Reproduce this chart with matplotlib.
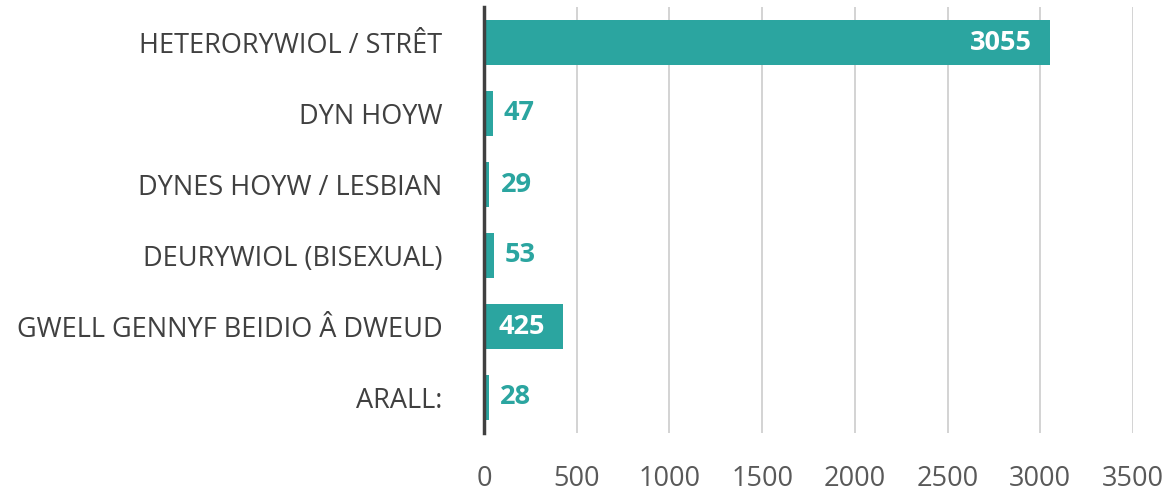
import matplotlib
matplotlib.use("Agg")
import matplotlib.pyplot as plt

categories = ["HETERORYWIOL / STRÊT", "DYN HOYW", "DYNES HOYW / LESBIAN",
              "DEURYWIOL (BISEXUAL)", "GWELL GENNYF BEIDIO Â DWEUD", "ARALL:"]
values = [3055, 47, 29, 53, 425, 28]
xticks = [0, 500, 1000, 1500, 2000, 2500, 3000, 3500]

teal = "#2BA5A0"
plt.rcParams['font.family'] = ['Open Sans', 'DejaVu Sans']
FS = 19.5

fig = plt.figure(figsize=(11.7, 4.96), dpi=100)
ax = fig.add_axes([484/1170, 1 - 433/496, (1133-484)/1170, (433-7)/496])

ypos = list(range(len(categories)))
ax.barh(ypos, values, height=0.63, color=teal, zorder=3)
ax.set_ylim(len(categories) - 0.5, -0.5)
ax.set_xlim(0, 3500)
ax.set_yticks(ypos)
ax.set_yticklabels(categories, fontsize=FS, color="#404040")
ax.set_xticks(xticks)
ax.set_xticklabels([str(t) for t in xticks], fontsize=FS, color="#595959")
ax.tick_params(axis='y', length=0, pad=30)
ax.tick_params(axis='x', length=0, pad=23)
ax.grid(axis='x', color="#d0d0d0", linewidth=1.3, zorder=0)
for s in ["top", "right", "bottom"]:
    ax.spines[s].set_visible(False)
ax.spines["left"].set_color("#404040")
ax.spines["left"].set_linewidth(2.5)
ax.spines["left"].set_zorder(4)

for y, v in zip(ypos, values):
    if v > 300:
        ax.annotate(str(v), (v, y), xytext=(-13, 0), textcoords='offset points',
                    ha='right', va='center', color='white',
                    fontsize=FS, fontweight='bold', zorder=5)
    else:
        ax.annotate(str(v), (v, y), xytext=(8, 0), textcoords='offset points',
                    ha='left', va='center', color=teal,
                    fontsize=FS, fontweight='bold', zorder=5)

fig.savefig("out.png", dpi=100)
